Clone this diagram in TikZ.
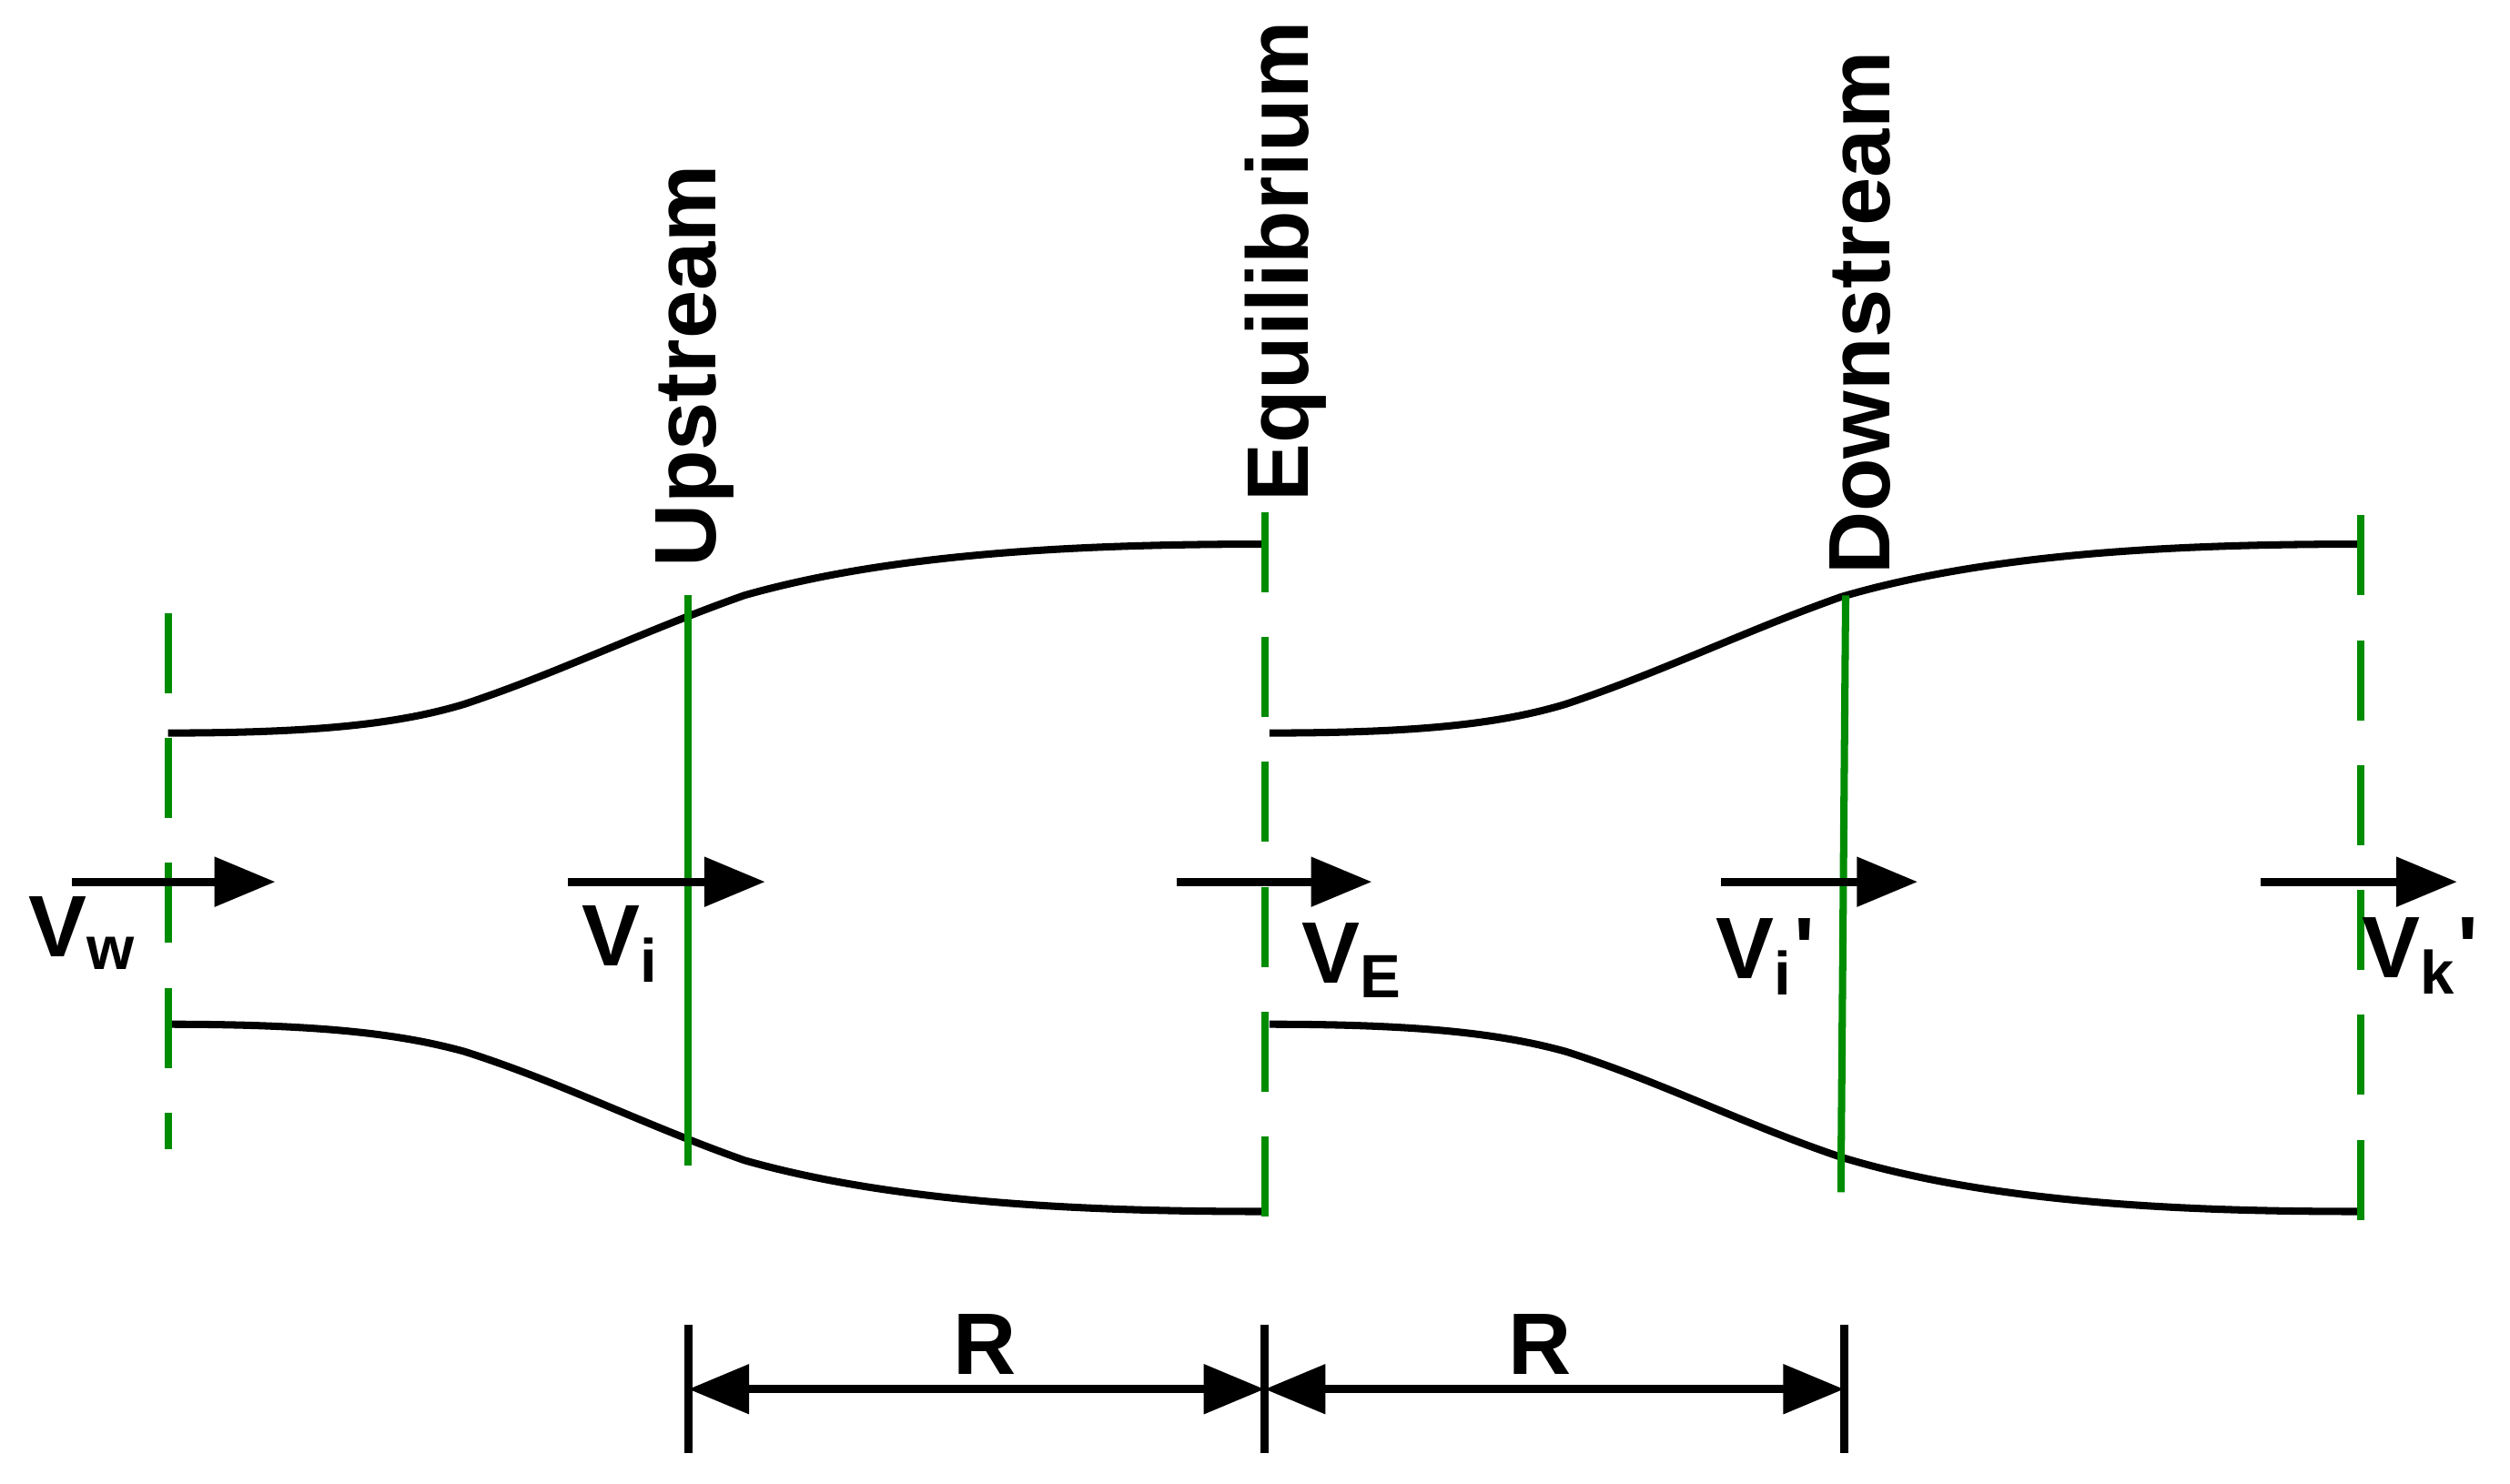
\documentclass[tikz,border=0pt]{standalone}
\usepackage{fontspec}
\setmainfont{Liberation Sans}
\usetikzlibrary{arrows.meta}
\begin{document}
\begin{tikzpicture}[x=0.01cm,y=-0.01cm,
  gd/.style={draw=green!55!black,line width=1.3pt,dash pattern=on 0.5cm off 0.28cm},
  gs/.style={draw=green!55!black,line width=1.3pt},
  tube/.style={draw=black,line width=1.3pt},
  flow/.style={draw=black,line width=1.5pt,-{Triangle[length=0.38cm,width=0.3cm]}},
  dim/.style={draw=black,line width=1.5pt,{Triangle[length=0.38cm,width=0.3cm]}-{Triangle[length=0.38cm,width=0.3cm]}},
  lbl/.style={font=\fontsize{15.5}{18}\selectfont\bfseries,inner sep=0pt},
  vl/.style={font=\fontsize{15.5}{18}\selectfont\bfseries,inner sep=0pt,rotate=90,anchor=west}]
\useasboundingbox (0,0) rectangle (1568,927);
% tubes
\draw[tube] (105,458) .. controls (200,458) and (250,452) .. (290,440)
  .. controls (350,420) and (400,395) .. (465,372)
  .. controls (560,345) and (680,340) .. (790,340);
\draw[tube] (105,640) .. controls (200,640) and (250,646) .. (290,657)
  .. controls (350,676) and (400,702) .. (465,725)
  .. controls (560,752) and (680,757) .. (790,757);
\draw[tube] (793,458) .. controls (888,458) and (938,452) .. (978,440)
  .. controls (1038,420) and (1088,395) .. (1150,373)
  .. controls (1245,345) and (1365,340) .. (1475,340);
\draw[tube] (793,640) .. controls (888,640) and (938,646) .. (978,657)
  .. controls (1038,676) and (1088,702) .. (1150,723)
  .. controls (1245,752) and (1365,757) .. (1475,757);
% green lines
\coordinate (a1) at (105,383); \coordinate (a2) at (105,718);
\coordinate (u1) at (430,372); \coordinate (u2) at (430,728);
\coordinate (e1) at (790,320); \coordinate (e2) at (790,780);
\coordinate (d1) at (1153,372); \coordinate (d2) at (1150,745);
\coordinate (k1) at (1475,322); \coordinate (k2) at (1475,780);
\draw[gd] (a1) -- (a2);
\draw[gs] (u1) -- (u2);
\draw[gd] (e1) -- (e2);
\draw[gs] (d1) -- (d2);
\draw[gd] (k1) -- (k2);
% labels of sections
\node[vl] (up) at (434,355) {Upstream};
\node[vl] (eq) at (803,314) {Equilibrium};
\node[vl] (dn) at (1162,360) {Downstream};
% flow arrows
\coordinate (f1a) at (45,551); \coordinate (f1b) at (172,551);
\coordinate (f2a) at (355,551); \coordinate (f2b) at (478,551);
\coordinate (f3a) at (735,551); \coordinate (f3b) at (857,551);
\coordinate (f4a) at (1075,551); \coordinate (f4b) at (1198,551);
\coordinate (f5a) at (1412,551); \coordinate (f5b) at (1535,551);
\draw[flow] (f1a) -- (f1b);
\draw[flow] (f2a) -- (f2b);
\draw[flow] (f3a) -- (f3b);
\draw[flow] (f4a) -- (f4b);
\draw[flow] (f5a) -- (f5b);
\node[lbl] (vw) at (52,583) {V\textsubscript{w}};
\node[lbl] (vi) at (388,590) {V\textsubscript{i}};
\node[lbl] (ve) at (845,600) {V\textsubscript{E}};
\node[lbl] (vi2) at (1103,598) {V\textsubscript{i}\textquotesingle};
\node[lbl] (vk) at (1512,597) {V\textsubscript{k}\textquotesingle};
% dimensions
\coordinate (r1a) at (430,828); \coordinate (r1b) at (430,908);
\coordinate (r2a) at (790,828); \coordinate (r2b) at (790,908);
\coordinate (r3a) at (1152,828); \coordinate (r3b) at (1152,908);
\draw[line width=1.5pt] (r1a) -- (r1b);
\draw[line width=1.5pt] (r2a) -- (r2b);
\draw[line width=1.5pt] (r3a) -- (r3b);
\coordinate (m1) at (430,868); \coordinate (m2) at (790,868); \coordinate (m3) at (1152,868);
\draw[dim] (m1) -- (m2);
\draw[dim] (m2) -- (m3);
\node[lbl] (R1) at (615,840) {R};
\node[lbl] (R2) at (962,840) {R};
\end{tikzpicture}
\end{document}
